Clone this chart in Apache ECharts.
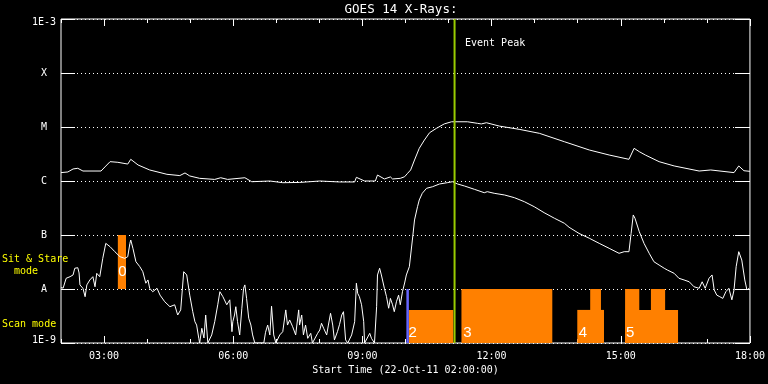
<!DOCTYPE html>
<html>
<head>
<meta charset="utf-8">
<script src="https://cdn.jsdelivr.net/npm/echarts@6/dist/echarts.min.js"></script>
<style>
html,body{margin:0;padding:0;background:#000;}
#chart{width:768px;height:384px;}
</style>
</head>
<body>
<div id="chart"></div>
<script>
// ---- data (hours since 00:00 on 22-Oct-11, flux in W/m^2) ----
const xTickValues = [3, 6, 9, 12, 15, 18];
const xTickLabels = ['03:00', '06:00', '09:00', '12:00', '15:00', '18:00'];
const yTickLabels = ['1E-9', 'A', 'B', 'C', 'M', 'X', '1E-3'];

const longTime = [
  2.00,2.16,2.28,2.39,2.51,2.93,3.02,3.14,3.32,3.55,
  3.62,3.79,4.06,4.46,4.76,4.88,4.99,5.22,5.57,5.71,
  5.87,6.27,6.43,6.85,7.15,7.54,8.01,8.47,8.82,8.86,
  9.05,9.30,9.35,9.51,9.65,9.70,9.88,9.98,10.05,10.12,
  10.21,10.32,10.44,10.56,10.72,10.90,11.07,11.44,11.67,11.76,
  11.88,12.18,12.64,13.11,13.69,14.27,14.73,15.19,15.31,15.43,
  15.57,15.89,16.24,16.82,17.09,17.63,17.74,17.86,18.00
];
const longFlux = [
  1.43e-6,1.47e-6,1.67e-6,1.72e-6,1.53e-6,1.53e-6,1.82e-6,2.28e-6,2.22e-6,2.06e-6,
  2.52e-6,1.98e-6,1.60e-6,1.33e-6,1.26e-6,1.41e-6,1.24e-6,1.12e-6,1.07e-6,1.15e-6,
  1.07e-6,1.15e-6,9.7e-7,1.0e-6,9.3e-7,9.4e-7,1.0e-6,9.6e-7,9.6e-7,1.17e-6,
  1.0e-6,1.0e-6,1.29e-6,1.09e-6,1.19e-6,1.09e-6,1.12e-6,1.20e-6,1.39e-6,1.60e-6,
  2.45e-6,4.03e-6,5.74e-6,7.84e-6,9.46e-6,1.14e-5,1.25e-5,1.25e-5,1.17e-5,1.14e-5,
  1.20e-5,1.04e-5,9.06e-6,7.64e-6,5.34e-6,3.75e-6,3.03e-6,2.52e-6,4.03e-6,3.49e-6,
  3.03e-6,2.28e-6,1.90e-6,1.53e-6,1.60e-6,1.43e-6,1.90e-6,1.55e-6,1.51e-6
];

const shortTime = [
  2.00,2.05,2.12,2.21,2.28,2.32,2.39,2.42,2.44,2.51,
  2.56,2.60,2.67,2.74,2.79,2.83,2.90,2.97,3.04,3.14,
  3.25,3.37,3.48,3.55,3.60,3.62,3.67,3.74,3.83,3.90,
  3.97,4.02,4.06,4.13,4.23,4.30,4.41,4.53,4.64,4.71,
  4.78,4.85,4.92,4.99,5.06,5.11,5.15,5.20,5.22,5.27,
  5.32,5.36,5.41,5.50,5.57,5.64,5.69,5.76,5.85,5.92,
  5.97,5.99,6.03,6.06,6.10,6.15,6.20,6.24,6.27,6.31,
  6.36,6.41,6.45,6.50,6.71,6.75,6.80,6.85,6.89,6.94,
  6.99,7.08,7.15,7.22,7.26,7.31,7.38,7.45,7.52,7.54,
  7.59,7.63,7.68,7.73,7.80,7.84,7.96,8.01,8.05,8.10,
  8.17,8.21,8.26,8.31,8.35,8.42,8.47,8.52,8.56,8.61,
  8.66,8.75,8.82,8.86,8.89,8.93,8.98,9.03,9.05,9.17,
  9.21,9.28,9.33,9.35,9.40,9.44,9.51,9.56,9.61,9.65,
  9.70,9.74,9.79,9.84,9.88,9.93,9.98,10.02,10.09,10.16,
  10.21,10.28,10.32,10.39,10.49,10.63,10.79,10.97,11.09,11.21,
  11.37,11.60,11.83,11.90,12.06,12.30,12.53,12.76,12.99,13.22,
  13.46,13.69,13.80,14.03,14.27,14.50,14.73,14.96,15.08,15.19,
  15.24,15.29,15.33,15.43,15.54,15.66,15.77,15.89,16.01,16.08,
  16.24,16.35,16.47,16.59,16.70,16.82,16.89,16.96,17.05,17.12,
  17.17,17.23,17.30,17.37,17.44,17.51,17.58,17.63,17.68,17.74,
  17.81,17.88,17.93,17.98
];
const shortFlux = [
  1.06e-8,1.04e-8,1.58e-8,1.69e-8,1.82e-8,2.42e-8,2.48e-8,1.98e-8,1.19e-8,1.03e-8,
  7.2e-9,1.19e-8,1.47e-8,1.69e-8,1.10e-8,1.95e-8,1.69e-8,3.7e-8,7.0e-8,6.07e-8,
  4.91e-8,3.96e-8,3.7e-8,3.96e-8,7.0e-8,8.07e-8,5.67e-8,3.2e-8,2.59e-8,2.09e-8,
  1.28e-8,1.47e-8,1.03e-8,8.9e-9,1.03e-8,7.7e-9,5.8e-9,4.7e-9,5.1e-9,3.3e-9,
  4.1e-9,2.09e-8,1.82e-8,7.7e-9,3.8e-9,2.48e-9,2.15e-9,1.22e-9,1.0e-9,1.87e-9,
  1.24e-9,3.3e-9,1.0e-9,1.41e-9,2.48e-9,5.1e-9,8.9e-9,7.2e-9,5.1e-9,6.3e-9,
  1.62e-9,2.48e-9,3.3e-9,4.7e-9,2.48e-9,1.41e-9,4.4e-9,1.03e-8,1.19e-8,6.7e-9,
  2.87e-9,2.15e-9,1.41e-9,1.0e-9,1.0e-9,1.58e-9,2.15e-9,1.41e-9,4.8e-9,1.41e-9,
  1.0e-9,1.41e-9,1.62e-9,4.1e-9,2.15e-9,2.67e-9,2.0e-9,1.41e-9,4.1e-9,2.15e-9,
  3.3e-9,1.41e-9,2.15e-9,1.22e-9,1.51e-9,1.0e-9,1.51e-9,1.74e-9,2.32e-9,1.87e-9,
  1.41e-9,2.15e-9,3.55e-9,2.15e-9,1.14e-9,1.62e-9,2.22e-9,3.3e-9,3.8e-9,1.14e-9,
  1.0e-9,1.41e-9,2.48e-9,1.28e-8,8.3e-9,7.2e-9,5.1e-9,2.48e-9,1.0e-9,1.51e-9,
  1.22e-9,1.0e-9,4.7e-9,1.82e-8,2.42e-8,1.82e-8,1.03e-8,7.2e-9,4.4e-9,6.7e-9,
  5.1e-9,3.8e-9,5.8e-9,7.7e-9,5.1e-9,8.9e-9,1.29e-8,1.82e-8,2.59e-8,8.07e-8,
  1.90e-7,3.34e-7,4.45e-7,5.92e-7,7.33e-7,7.84e-7,8.8e-7,9.3e-7,9.7e-7,8.8e-7,
  8.08e-7,7.02e-7,6.07e-7,6.34e-7,5.92e-7,5.51e-7,4.91e-7,4.14e-7,3.34e-7,2.59e-7,
  2.04e-7,1.65e-7,1.39e-7,1.07e-7,8.7e-8,7.0e-8,5.67e-8,4.58e-8,4.91e-8,4.91e-8,
  1.07e-7,2.35e-7,2.04e-7,1.15e-7,7.0e-8,4.58e-8,3.2e-8,2.78e-8,2.42e-8,2.25e-8,
  1.95e-8,1.58e-8,1.47e-8,1.36e-8,1.10e-8,1.03e-8,1.36e-8,1.03e-8,1.58e-8,1.82e-8,
  9.6e-9,7.7e-9,7.2e-9,6.7e-9,8.9e-9,1.03e-8,6.3e-9,9.6e-9,2.59e-8,4.91e-8,
  3.44e-8,1.47e-8,9.6e-9,1.03e-8
];

// observing-mode blocks
const modeStart = [3.32, 10.08, 11.30, 13.99, 14.29, 15.10, 15.10, 15.70];
const modeEnd   = [3.51, 11.11, 13.41, 14.61, 14.54, 16.33, 15.43, 16.03];
const modeLow   = [1e-8, 1e-9, 1e-9, 1e-9, 1e-9, 1e-9, 1e-9, 1e-9];
const modeHigh  = [1e-7, 4.1e-9, 1e-8, 4.1e-9, 1e-8, 4.1e-9, 1e-8, 1e-8];

const modeLabelText = ['0', '2', '3', '4', '5'];
const modeLabelTime = [3.426, 10.17, 11.44, 14.12, 15.22];
const modeLabelFlux = [2.07e-8, 1.53e-9, 1.53e-9, 1.53e-9, 1.53e-9];

const eventPeakTime = 11.14;
const scanStartTime = 10.05;
const fluxMin = 1e-9, fluxMax = 1e-3;

// ---- chart ----
const MONO = '"DejaVu Sans Mono", monospace';
const chart = echarts.init(document.getElementById('chart'), null, {renderer: 'canvas'});

const pairs = (t, f) => t.map((v, i) => [v, f[i]]);
const yLabelOf = v => yTickLabels[Math.round(Math.log10(v)) + 9] || '';

const baseX = {
  type: 'value', min: 2, max: 18, gridIndex: 0,
  axisLine: {show: false}, splitLine: {show: false}
};
const baseY = {
  type: 'log', logBase: 10, min: fluxMin, max: fluxMax, gridIndex: 0,
  axisLine: {show: false}
};

const option = {
  backgroundColor: '#000',
  animation: false,
  grid: {left: 61, right: 17, top: 19, bottom: 41, show: true,
         borderColor: '#fff', borderWidth: 1, backgroundColor: 'transparent'},
  graphic: [
    {type: 'text', x: 401, y: 10, style: {text: 'GOES 14 X-Rays:', fill: '#fff',
      font: '12.5px ' + MONO, align: 'center', verticalAlign: 'middle'}},
    {type: 'text', x: 465, y: 43, style: {text: 'Event Peak', fill: '#fff',
      font: '10px ' + MONO, align: 'left', verticalAlign: 'middle'}},
    {type: 'text', x: 2, y: 259, style: {text: 'Sit & Stare', fill: '#ffff00',
      font: '10px ' + MONO, align: 'left', verticalAlign: 'middle'}},
    {type: 'text', x: 2, y: 271, style: {text: '  mode', fill: '#ffff00',
      font: '10px ' + MONO, align: 'left', verticalAlign: 'middle'}},
    {type: 'text', x: 2, y: 324, style: {text: 'Scan mode', fill: '#ffff00',
      font: '10px ' + MONO, align: 'left', verticalAlign: 'middle'}}
  ],
  xAxis: [
    Object.assign({}, baseX, {
      position: 'bottom', interval: 1,
      axisTick: {show: true, inside: true, length: 4, lineStyle: {color: '#fff'}},
      axisLabel: {show: true, color: '#fff', fontFamily: MONO, fontSize: 10, margin: 8,
        formatter: v => { const i = xTickValues.indexOf(v); return i >= 0 ? xTickLabels[i] : ''; }},
      name: 'Start Time (22-Oct-11 02:00:00)', nameLocation: 'middle', nameGap: 20,
      nameTextStyle: {color: '#fff', fontFamily: MONO, fontSize: 10}
    }),
    Object.assign({}, baseX, {
      position: 'bottom',
      axisTick: {show: true, inside: true, length: 7, customValues: xTickValues, lineStyle: {color: '#fff'}},
      axisLabel: {show: false}
    }),
    Object.assign({}, baseX, {
      position: 'top', interval: 1,
      axisTick: {show: true, inside: true, length: 4, lineStyle: {color: '#fff'}},
      axisLabel: {show: false}
    }),
    Object.assign({}, baseX, {
      position: 'top',
      axisTick: {show: true, inside: true, length: 7, customValues: xTickValues, lineStyle: {color: '#fff'}},
      axisLabel: {show: false}
    })
  ],
  yAxis: [
    Object.assign({}, baseY, {
      position: 'left',
      axisTick: {show: true, inside: true, length: 14, lineStyle: {color: '#fff'}},
      axisLabel: {show: true, color: '#fff', fontFamily: MONO, fontSize: 10, align: 'center', margin: 17,
        formatter: v => {
          const s = yLabelOf(v);
          if (v >= fluxMax * 0.99) return '{hi|' + s + '}';
          if (v <= fluxMin * 1.01) return '{lo|' + s + '}';
          return s;
        },
        rich: {
          hi: {color: '#fff', fontFamily: MONO, fontSize: 10, padding: [7, 0, 0, 0]},
          lo: {color: '#fff', fontFamily: MONO, fontSize: 10, padding: [0, 0, 5, 0]}
        }},
      splitLine: {show: true, lineStyle: {color: '#fff', width: 1, type: [1, 3]}}
    }),
    Object.assign({}, baseY, {
      position: 'right',
      axisTick: {show: true, inside: true, length: 15, lineStyle: {color: '#fff'}},
      axisLabel: {show: false},
      splitLine: {show: false}
    })
  ],
  series: [
    {
      type: 'custom', name: 'modes', xAxisIndex: 0, yAxisIndex: 0,
      data: modeStart.map((s, i) => [s, modeEnd[i], modeLow[i], modeHigh[i]]),
      encode: {x: [0, 1], y: [2, 3]},
      renderItem: (params, api) => {
        const p0 = api.coord([api.value(0), api.value(3)]);
        const p1 = api.coord([api.value(1), api.value(2)]);
        return {type: 'rect', shape: {x: p0[0], y: p0[1], width: p1[0] - p0[0], height: p1[1] - p0[1]},
          style: {fill: '#ff8000'}};
      },
      silent: true, z: 1
    },
    {
      type: 'line', name: 'long', xAxisIndex: 0, yAxisIndex: 0,
      data: pairs(longTime, longFlux), showSymbol: false, symbol: 'none',
      lineStyle: {color: '#fff', width: 1}, silent: true, z: 2
    },
    {
      type: 'line', name: 'short', xAxisIndex: 0, yAxisIndex: 0,
      data: pairs(shortTime, shortFlux), showSymbol: false, symbol: 'none',
      lineStyle: {color: '#fff', width: 1}, silent: true, z: 2
    },
    {
      type: 'line', name: 'scanStart', xAxisIndex: 0, yAxisIndex: 0,
      data: [[scanStartTime, fluxMin], [scanStartTime, 1e-8]], showSymbol: false, symbol: 'none',
      lineStyle: {color: '#6666ff', width: 2.5}, silent: true, z: 3
    },
    {
      type: 'line', name: 'eventPeak', xAxisIndex: 0, yAxisIndex: 0,
      data: [[eventPeakTime, fluxMin], [eventPeakTime, fluxMax]], showSymbol: false, symbol: 'none',
      lineStyle: {color: '#99cc00', width: 2}, silent: true, z: 3
    },
    {
      type: 'custom', name: 'modeLabels', xAxisIndex: 0, yAxisIndex: 0,
      data: modeLabelTime.map((t, i) => [t, modeLabelFlux[i]]),
      renderItem: (params, api) => {
        const p = api.coord([api.value(0), api.value(1)]);
        return {type: 'text', x: p[0], y: p[1], style: {text: modeLabelText[params.dataIndex],
          fill: '#fff', font: '15px "Liberation Sans"', align: 'center', verticalAlign: 'middle'}};
      },
      silent: true, z: 4
    }
  ]
};
chart.setOption(option);
</script>
</body>
</html>
